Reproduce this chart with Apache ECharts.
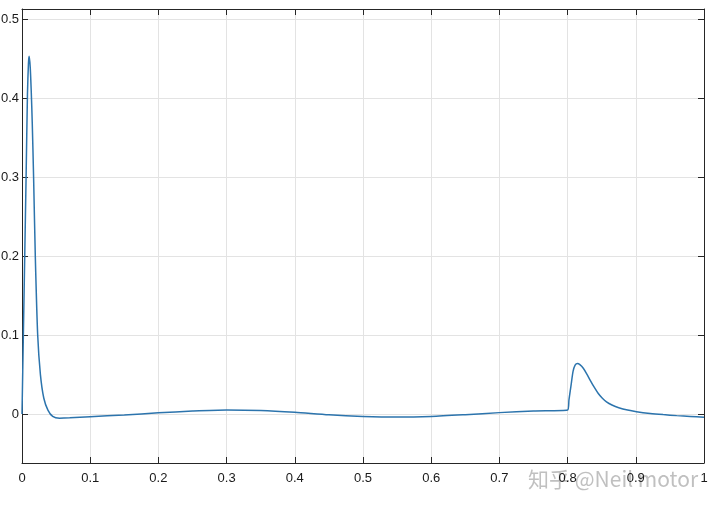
<!DOCTYPE html>
<html>
<head>
<meta charset="utf-8">
<script src="https://cdn.jsdelivr.net/npm/echarts@6/dist/echarts.min.js"></script>
<style>html,body{margin:0;padding:0;background:#fff}#c{width:720px;height:509px}</style>
</head>
<body>
<div id="c"></div>
<script>
const xValues = [0, 0.002, 0.004, 0.006, 0.008, 0.0095, 0.0105, 0.012, 0.0135, 0.015, 0.017, 0.0195, 0.023, 0.027, 0.032, 0.038, 0.045, 0.055, 0.07, 0.1, 0.15, 0.2, 0.25, 0.3, 0.35, 0.4, 0.45, 0.5, 0.55, 0.6, 0.65, 0.7, 0.75, 0.8, 0.802, 0.805, 0.808, 0.811, 0.8145, 0.818, 0.823, 0.828, 0.833, 0.839, 0.845, 0.851, 0.857, 0.865, 0.875, 0.888, 0.901, 0.921, 0.94, 0.96, 0.98, 1.0];
const yValues = [0, 0.1, 0.2, 0.3, 0.405, 0.445, 0.453, 0.44, 0.41, 0.37, 0.3, 0.2, 0.1, 0.05, 0.02, 0.005, -0.003, -0.0052, -0.0048, -0.0033, -0.0012, 0.0015, 0.0038, 0.0052, 0.0045, 0.0022, -0.001, -0.003, -0.0038, -0.003, -0.0008, 0.0018, 0.0038, 0.005, 0.018, 0.036, 0.054, 0.062, 0.064, 0.0625, 0.058, 0.051, 0.043, 0.034, 0.026, 0.020, 0.0155, 0.0115, 0.008, 0.005, 0.003, 0.0008, -0.0007, -0.002, -0.003, -0.004];
const xTickLabels = ['0', '0.1', '0.2', '0.3', '0.4', '0.5', '0.6', '0.7', '0.8', '0.9', '1'];
const yMin = -0.062, yMax = 0.513;

const chart = echarts.init(document.getElementById('c'), null, {renderer: 'canvas'});
const lineCol = '#262626';
const labelFont = {color: '#1a1a1a', fontSize: 13, fontFamily: 'Liberation Sans, Arial, sans-serif'};
const baseX = {
  type: 'value', min: 0, max: 1, interval: 0.1,
  axisLine: {show: true, onZero: false, lineStyle: {color: lineCol, width: 1}},
  axisTick: {show: true, inside: true, length: 6, lineStyle: {color: lineCol}},
  splitLine: {show: false}
};
const baseY = {
  type: 'value', min: yMin, max: yMax, splitNumber: 6,
  axisLine: {show: true, onZero: false, lineStyle: {color: lineCol, width: 1}},
  axisTick: {show: true, inside: true, length: 6, lineStyle: {color: lineCol}},
  splitLine: {show: false}
};
chart.setOption({
  backgroundColor: '#fff',
  animation: false,
  grid: {left: 22, right: 16, top: 9, bottom: 46, containLabel: false, outerBoundsMode: 'none'},
  xAxis: [
    Object.assign({}, baseX, {
      position: 'bottom',
      splitLine: {show: true, lineStyle: {color: '#e3e3e3', width: 1}},
      axisLabel: Object.assign({margin: 9, formatter: v => xTickLabels[Math.round(v * 10)] || ''}, labelFont)
    }),
    Object.assign({}, baseX, {position: 'top', axisLabel: {show: false}})
  ],
  yAxis: [
    Object.assign({}, baseY, {
      position: 'left',
      splitLine: {show: true, lineStyle: {color: '#e3e3e3', width: 1}},
      axisLabel: Object.assign({margin: 3, showMinLabel: false, showMaxLabel: false,
        formatter: v => String(Math.round(v * 10) / 10)}, labelFont)
    }),
    Object.assign({}, baseY, {position: 'right', axisLabel: {show: false}})
  ],
  series: [{
    type: 'line',
    data: xValues.map((x, i) => [x, yValues[i]]),
    showSymbol: false,
    smooth: 0.25,
    lineStyle: {color: '#2c74ad', width: 1.5},
    clip: true
  }],
  graphic: [{
    type: 'text', left: 528, top: 469, silent: true,
    style: {text: '知乎 @Neil motor', fill: 'rgba(140,140,140,0.55)', fontSize: 21,
      fontFamily: 'Noto Sans CJK SC, Liberation Sans, sans-serif'}
  }]
});
</script>
</body>
</html>
